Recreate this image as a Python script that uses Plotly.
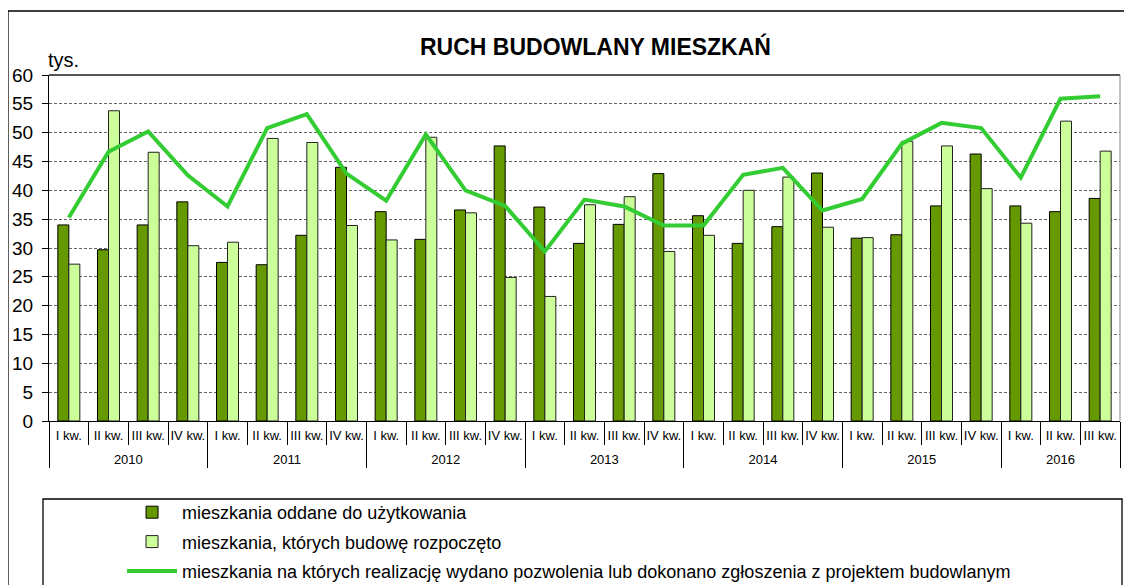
import plotly.graph_objects as go

# ── Dane (tys. mieszkań) ──────────────────────────────────────────────────────
years = ["2010", "2011", "2012", "2013", "2014", "2015", "2016"]
quarters = ["I kw.", "II kw.", "III kw.", "IV kw."]
quarters_per_year = [4, 4, 4, 4, 4, 4, 3]

oddane = [34.0, 29.7, 34.0, 38.0, 27.5, 27.1, 32.2, 44.0, 36.3, 31.5, 36.6, 47.7,
          37.1, 30.8, 34.1, 42.9, 35.6, 30.8, 33.7, 43.0, 31.7, 32.3, 37.3, 46.3,
          37.3, 36.3, 38.6]
rozpoczete = [27.2, 53.8, 46.6, 30.4, 31.0, 49.0, 48.3, 33.9, 31.4, 49.2, 36.1, 24.9,
              21.6, 37.5, 38.9, 29.4, 32.2, 40.0, 42.3, 33.6, 31.8, 48.5, 47.7, 40.3,
              34.3, 52.0, 46.8]
pozwolenia = [35.3, 46.7, 50.2, 42.6, 37.2, 50.8, 53.2, 42.9, 38.2, 49.7, 40.0, 37.3,
              29.4, 38.4, 37.2, 33.9, 33.9, 42.7, 43.9, 36.5, 38.5, 48.1, 51.7, 50.8,
              42.2, 55.9, 56.3]

names = [
    "mieszkania oddane do użytkowania",
    "mieszkania, których budowę rozpoczęto",
    "mieszkania na których realizację wydano pozwolenia lub dokonano zgłoszenia z projektem budowlanym",
]

# etykiety osi X: kwartały + lata (pusty wiersz odsuwa lata niżej)
LBL = '<span style="font-size:13px">{}</span>'
x_year = []
x_quarter = []
for year, n in zip(years, quarters_per_year):
    x_year += ["<br>" + LBL.format(year)] * n
    x_quarter += [LBL.format(q) for q in quarters[:n]]
x = [x_year, x_quarter]

FONT = "Liberation Sans, Arial, sans-serif"

fig = go.Figure()
fig.add_trace(go.Bar(x=x, y=oddane, name=names[0], legendgroup="a",
                     marker=dict(color="#669900", line=dict(color="#000000", width=1))))
fig.add_trace(go.Bar(x=x, y=rozpoczete, name=names[1], legendgroup="b",
                     marker=dict(color="#CCFF99", line=dict(color="#222222", width=1))))
fig.add_trace(go.Scatter(x=x, y=pozwolenia, name=names[2], legendgroup="c", mode="lines",
                         line=dict(color="#33CC33", width=4)))

# strona ma 8 px marginesu body, więc figura jest o 8 px mniejsza
fig.update_layout(
    width=1124, height=577,
    margin=dict(l=41, r=12, t=67, b=164, autoexpand=False),
    paper_bgcolor="white", plot_bgcolor="white",
    font=dict(family=FONT, color="#000000"),
    barmode="group", bargap=0.445, bargroupgap=0,
    showlegend=True,
    legend=dict(
        x=0.0682, y=-0.211, xanchor="left", yanchor="top",
        font=dict(size=18, family=FONT),
        bgcolor="rgba(0,0,0,0)", borderwidth=0,
        traceorder="grouped", tracegroupgap=3, itemwidth=50,
    ),
    annotations=[
        dict(text="<b>RUCH BUDOWLANY MIESZKAŃ</b>", xref="paper", yref="paper",
             x=0.51, y=1.0838, xanchor="center", yanchor="middle", showarrow=False,
             font=dict(size=23, family=FONT)),
        dict(text="tys.", xref="paper", yref="paper", x=-0.003, y=1.043,
             xanchor="left", yanchor="middle", showarrow=False,
             font=dict(size=20, family=FONT)),
    ],
    shapes=[
        # ramka obszaru wykresu (góra, prawa)
        dict(type="line", xref="paper", yref="paper", x0=0, x1=1, y0=1, y1=1,
             line=dict(color="#555555", width=2), layer="above"),
        dict(type="line", xref="paper", yref="paper", x0=1, x1=1, y0=0, y1=1,
             line=dict(color="#888888", width=1), layer="above"),
        # ramka legendy
        dict(type="rect", xref="paper", yref="paper", x0=-0.0056, x1=1.0019,
             y0=-0.6, y1=-0.2254, line=dict(color="#000000", width=1.3)),
        # ramka całości
        dict(type="rect", xref="paper", yref="paper", x0=-0.0383, x1=1.05,
             y0=-0.7, y1=1.185, line=dict(color="#000000", width=1.3)),
    ],
)

fig.update_yaxes(
    range=[0, 60], dtick=5, tick0=0,
    showgrid=True, gridcolor="#666666", gridwidth=1, griddash="3px,2px",
    showline=True, linecolor="#000000", linewidth=1,
    ticks="outside", ticklen=6, tickcolor="#000000",
    ticklabelstandoff=5,
    tickfont=dict(size=19, family=FONT),
    zeroline=False, automargin=False,
)
fig.update_xaxes(
    type="multicategory",
    showline=True, linecolor="#000000", linewidth=1,
    ticks="outside", tickson="boundaries", ticklen=23, tickcolor="#000000",
    showdividers=True, dividercolor="#000000", dividerwidth=1,
    tickangle=0, ticklabelstandoff=6,
    tickfont=dict(size=10, family=FONT),
    showgrid=False, automargin=False,
)

fig.write_html("out.html")
